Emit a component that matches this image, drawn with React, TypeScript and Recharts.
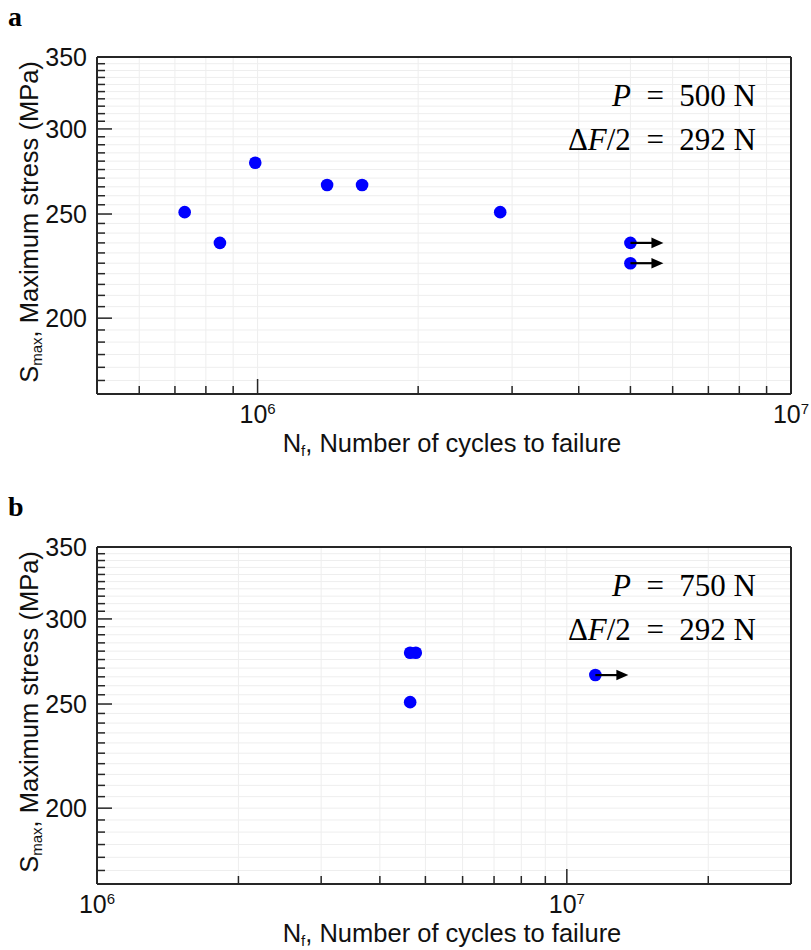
import React from "react";
import { ScatterChart, Scatter, XAxis, YAxis, CartesianGrid } from "recharts";

// painel a (P = 500 N)
const cyclesA = [7.3e5, 8.5e5, 9.9e5, 1.35e6, 1.57e6, 2.85e6];
const stressA = [251, 235, 279, 266, 266, 251];
const runoutCyclesA = [5e6, 5e6];
const runoutStressA = [235, 225];

// painel b (P = 750 N)
const cyclesB = [4.64e6, 4.77e6, 4.64e6];
const stressB = [279, 279, 251];
const runoutCyclesB = [1.15e7];
const runoutStressB = [266];

const xTicksA = [6e5, 7e5, 8e5, 9e5, 1e6, 2e6, 3e6, 4e6, 5e6, 6e6, 7e6, 8e6, 9e6, 1e7];
const xTicksB = [1e6, 2e6, 3e6, 4e6, 5e6, 6e6, 7e6, 8e6, 9e6, 1e7, 2e7];
const stressTicks = [
  175, 180, 185, 190, 195, 200, 205, 210, 215, 220, 225, 230, 235, 240, 245, 250,
  255, 260, 265, 270, 275, 280, 285, 290, 295, 300, 305, 310, 315, 320, 325, 330,
  335, 340, 345, 350,
];
const stressLabels = [200, 250, 300, 350];

const AXIS = "#262626";
const SANS = "'Liberation Sans', Arial, Helvetica, sans-serif";
const SERIF = "'Liberation Serif', 'Times New Roman', serif";
const BLUE = "#0000ff";

const isDecade = (v: number) => {
  const l = Math.log10(v);
  return Math.abs(l - Math.round(l)) < 1e-6;
};

function BottomTick({ x, y, payload }: any) {
  const v = payload.value;
  const major = isDecade(v);
  return (
    <g>
      <line x1={x} y1={y} x2={x} y2={y - (major ? 15 : 8)} stroke={AXIS} strokeWidth={1.5} />
      {major && (
        <text x={x} y={y + 29} textAnchor="middle" fill="#111" style={{ fontFamily: SANS, fontSize: 25 }}>
          10<tspan dy={-9} style={{ fontSize: 15 }}>{Math.round(Math.log10(v))}</tspan>
        </text>
      )}
    </g>
  );
}

function TopTick({ x, y, payload }: any) {
  const major = isDecade(payload.value);
  return <line x1={x} y1={y} x2={x} y2={y + (major ? 15 : 8)} stroke={AXIS} strokeWidth={1.5} />;
}

function LeftTick({ x, y, payload }: any) {
  const v = payload.value;
  const major = stressLabels.includes(v);
  return (
    <g>
      <line x1={x} y1={y} x2={x + (major ? 15 : 8)} y2={y} stroke={AXIS} strokeWidth={1.5} />
      {major && (
        <text x={x - 10} y={y} dy="0.36em" textAnchor="end" fill="#111" style={{ fontFamily: SANS, fontSize: 25 }}>
          {v}
        </text>
      )}
    </g>
  );
}

function RightTick({ x, y, payload }: any) {
  const major = stressLabels.includes(payload.value);
  return <line x1={x} y1={y} x2={x - (major ? 15 : 8)} y2={y} stroke={AXIS} strokeWidth={1.5} />;
}

function Dot({ cx, cy }: any) {
  return <circle cx={cx} cy={cy} r={6.3} fill={BLUE} />;
}

// ensaio interrompido (runout): ponto + seta
function Runout({ cx, cy }: any) {
  return (
    <g>
      <circle cx={cx} cy={cy} r={6.3} fill={BLUE} />
      <line x1={cx} y1={cy} x2={cx + 23} y2={cy} stroke="#000" strokeWidth={2.2} />
      <polygon points={`${cx + 21},${cy - 5.3} ${cx + 33},${cy} ${cx + 21},${cy + 5.3}`} fill="#000" />
    </g>
  );
}

interface PanelProps {
  letter: string;
  top: number;
  height: number;
  cycles: number[];
  stress: number[];
  runoutCycles: number[];
  runoutStress: number[];
  xDomain: [number, number];
  xTicks: number[];
  load: string;
}

function Panel(p: PanelProps) {
  const points = p.cycles.map((c, i) => ({ x: c, y: p.stress[i] }));
  const runouts = p.runoutCycles.map((c, i) => ({ x: c, y: p.runoutStress[i] }));
  const bottomH = p.height - 394;
  return (
    <div style={{ position: "absolute", left: 0, top: p.top, width: 811, height: p.height }}>
      <ScatterChart width={811} height={p.height} margin={{ top: 56, right: 19, bottom: 0, left: 0 }}>
        <CartesianGrid stroke="#eeeeee" strokeWidth={1} />
        <XAxis
          xAxisId={0}
          dataKey="x"
          type="number"
          scale="log"
          domain={p.xDomain}
          ticks={p.xTicks}
          interval={0}
          height={bottomH}
          tickSize={0}
          tickMargin={0}
          tickLine={false}
          axisLine={{ stroke: AXIS, strokeWidth: 2 }}
          tick={<BottomTick />}
        />
        <XAxis
          xAxisId="top"
          orientation="top"
          type="number"
          scale="log"
          domain={p.xDomain}
          ticks={p.xTicks}
          interval={0}
          height={1}
          tickSize={0}
          tickMargin={0}
          tickLine={false}
          axisLine={{ stroke: AXIS, strokeWidth: 2 }}
          tick={<TopTick />}
        />
        <YAxis
          yAxisId={0}
          dataKey="y"
          type="number"
          scale="log"
          domain={[170, 350]}
          ticks={stressTicks}
          interval={0}
          width={97}
          tickSize={0}
          tickMargin={0}
          tickLine={false}
          axisLine={{ stroke: AXIS, strokeWidth: 2 }}
          tick={<LeftTick />}
        />
        <YAxis
          yAxisId="right"
          orientation="right"
          type="number"
          scale="log"
          domain={[170, 350]}
          ticks={stressTicks}
          interval={0}
          width={1}
          tickSize={0}
          tickMargin={0}
          tickLine={false}
          axisLine={{ stroke: AXIS, strokeWidth: 2 }}
          tick={<RightTick />}
        />
        <Scatter data={points} shape={<Dot />} isAnimationActive={false} />
        <Scatter data={runouts} shape={<Runout />} isAnimationActive={false} />
      </ScatterChart>
      <svg
        width={811}
        height={p.height}
        style={{ position: "absolute", left: 0, top: 0, pointerEvents: "none", overflow: "visible" }}
      >
        <text x={8} y={26} fontWeight="bold" fill="#000" style={{ fontFamily: SERIF, fontSize: 28 }}>
          {p.letter}
        </text>
        <text x={756} y={106} textAnchor="end" fill="#000" style={{ fontFamily: SERIF, fontSize: 31 }}>
          <tspan fontStyle="italic">P</tspan>{"\u2002=\u2002"}{p.load} N
        </text>
        <text x={756} y={150} textAnchor="end" fill="#000" style={{ fontFamily: SERIF, fontSize: 31 }}>
          Δ<tspan fontStyle="italic">F</tspan>/2{"\u2002=\u2002"}292 N
        </text>
        <text x={452} y={452} textAnchor="middle" fill="#111" style={{ fontFamily: SANS, fontSize: 25.5 }}>
          N<tspan dy={4} style={{ fontSize: 15 }}>f</tspan>
          <tspan dy={-4}>, Number of cycles to failure</tspan>
        </text>
        <text
          transform="translate(38,222) rotate(-90)"
          textAnchor="middle"
          fill="#111"
          style={{ fontFamily: SANS, fontSize: 25.5 }}
        >
          S<tspan dy={4} style={{ fontSize: 15 }}>max</tspan>
          <tspan dy={-4}>, Maximum stress (MPa)</tspan>
        </text>
      </svg>
    </div>
  );
}

export default function App() {
  return (
    <div style={{ position: "absolute", left: 0, top: 0, width: 811, height: 950, background: "#fff", overflow: "hidden" }}>
      <Panel
        letter="a"
        top={0}
        height={480}
        cycles={cyclesA}
        stress={stressA}
        runoutCycles={runoutCyclesA}
        runoutStress={runoutStressA}
        xDomain={[5e5, 1e7]}
        xTicks={xTicksA}
        load="500"
      />
      <Panel
        letter="b"
        top={490}
        height={460}
        cycles={cyclesB}
        stress={stressB}
        runoutCycles={runoutCyclesB}
        runoutStress={runoutStressB}
        xDomain={[1e6, 3e7]}
        xTicks={xTicksB}
        load="750"
      />
    </div>
  );
}
